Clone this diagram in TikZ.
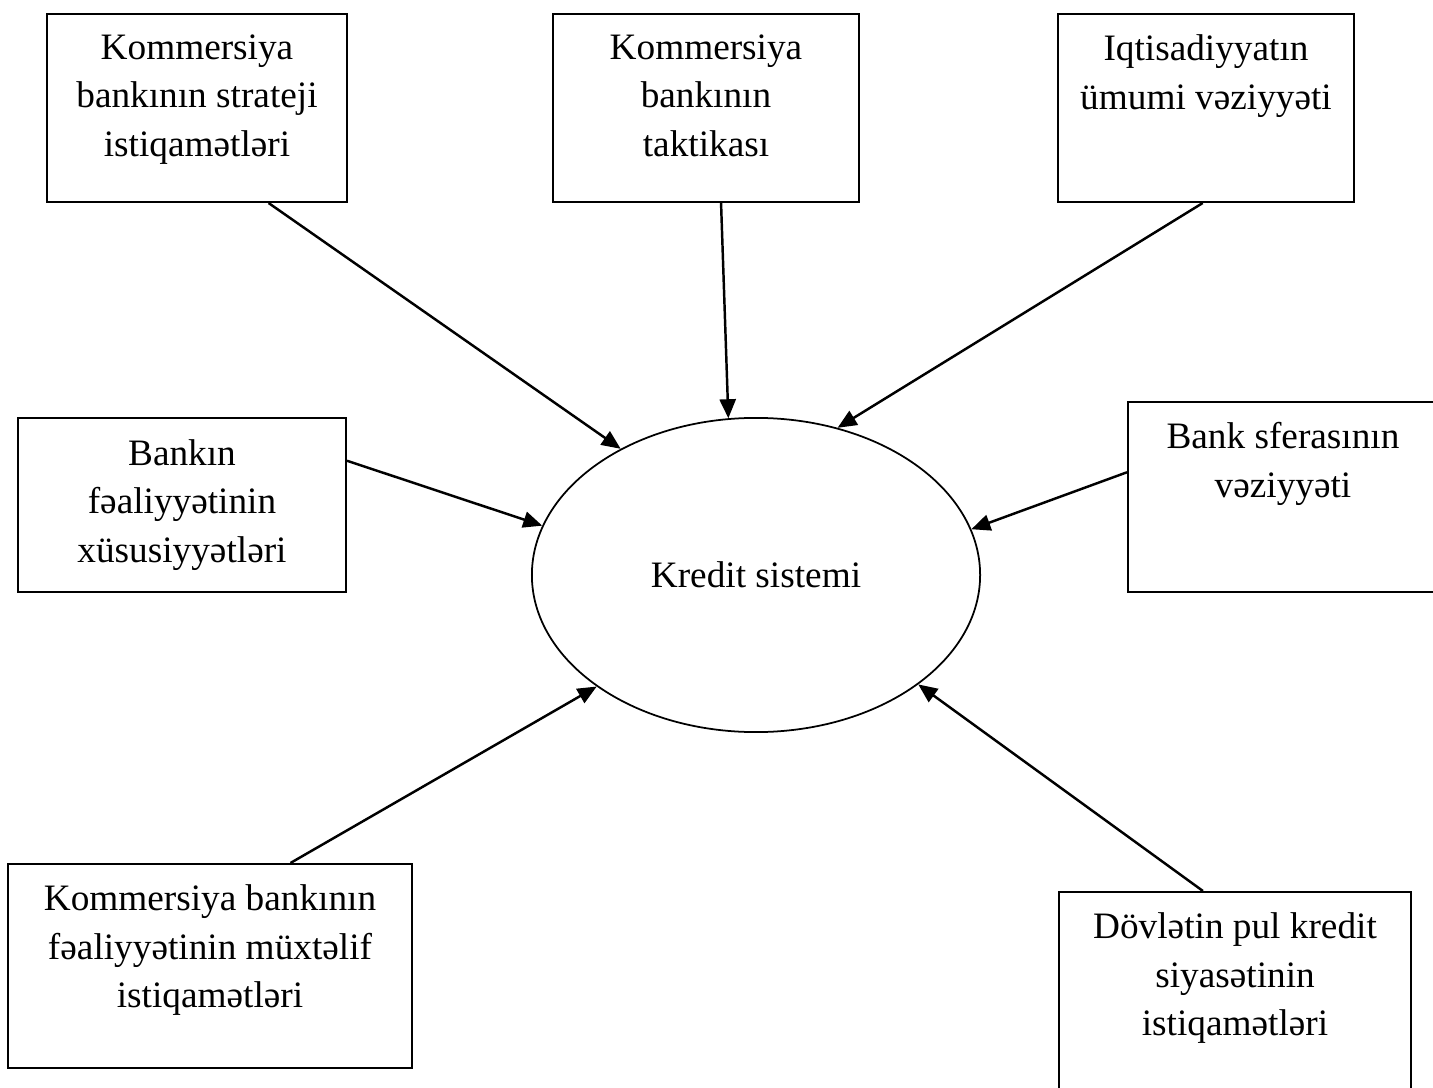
\documentclass[tikz,border=0pt]{standalone}
\usepackage{fontspec}
\setmainfont{Liberation Serif}
\usepackage{tikz}
\usetikzlibrary{arrows.meta,positioning,shapes.geometric}
\tikzset{
	>=Triangle,
	factor/.style={
		rectangle,
		draw,
		line width=0.55pt,
		inner sep=0pt
	},
	sysnode/.style={
		ellipse,
		draw,
		line width=0.5pt,
		minimum width=4.48cm,
		minimum height=3.14cm,
		inner sep=0pt,
		font=\fontsize{10.6}{13.8}\selectfont
	},
	boxtext/.style={
		anchor=north,
		yshift=-0.21cm,
		align=center,
		inner sep=0pt,
		font=\fontsize{10.6}{13.8}\selectfont
	},
	conn/.style={
		-{Triangle[length=5.4pt,width=4.6pt]},
		line width=0.7pt
	}
}
\begin{document}
\begin{tikzpicture}[x=0.01cm,y=0.01cm]
	\useasboundingbox (0,0) rectangle (1433,1087);
	
	% --- CENTRE ---
	\node[sysnode] (ks) at (756,512) {Kredit sistemi};
	
	% --- TOP ROW ---
	\node[factor, minimum width=3cm, minimum height=1.88cm] (b1) at (197,979) {};
	\node[boxtext] (t1) at (b1.north) {Kommersiya\\bankının strateji\\istiqamətləri};
	
	\node[factor, minimum width=3.05cm, minimum height=1.88cm] (b2) at (706,979) {};
	\node[boxtext] (t2) at (b2.north) {Kommersiya\\bankının\\taktikası};
	
	\node[factor, minimum width=2.95cm, minimum height=1.88cm] (b3) at (1206,979) {};
	\node[boxtext] (t3) at (b3.north) {Iqtisadiyyatın\\ümumi vəziyyəti};
	
	% --- MIDDLE ROW ---
	\node[factor, minimum width=3.28cm, minimum height=1.73cm] (b4) at (182,582) {};
	\node[boxtext] (t4) at (b4.north) {Bankın\\fəaliyyətinin\\xüsusiyyətləri};
	
	\node[factor, minimum width=3.1cm, minimum height=1.9cm] (b5) at (1283,590) {};
	\node[boxtext] (t5) at (b5.north) {Bank sferasının\\vəziyyəti};
	
	% --- BOTTOM ROW ---
	\node[factor, minimum width=4.04cm, minimum height=2.04cm] (b6) at (210,121) {};
	\node[boxtext] (t6) at (b6.north) {Kommersiya bankının\\fəaliyyətinin müxtəlif\\istiqamətləri};
	
	\node[factor, minimum width=3.52cm, minimum height=2.08cm] (b7) at (1235,91) {};
	\node[boxtext] (t7) at (b7.north) {Dövlətin pul kredit\\siyasətinin\\istiqamətləri};
	
	% --- CONNECTIONS ---
	\draw[conn] (b1.-53) -- (ks.137.7);
	\draw[conn] (b2.-81) -- (ks.100);
	\draw[conn] (b3.-92) -- (ks.61.6);
	\draw[conn] (b4.15.5) -- (ks.167.5);
	\draw[conn] (b5.171) -- (ks.12.8);
	\draw[conn] (b6.52) -- (ks.-145.6);
	\draw[conn] (b7.107.6) -- (ks.-34);
	
\end{tikzpicture}
\end{document}
